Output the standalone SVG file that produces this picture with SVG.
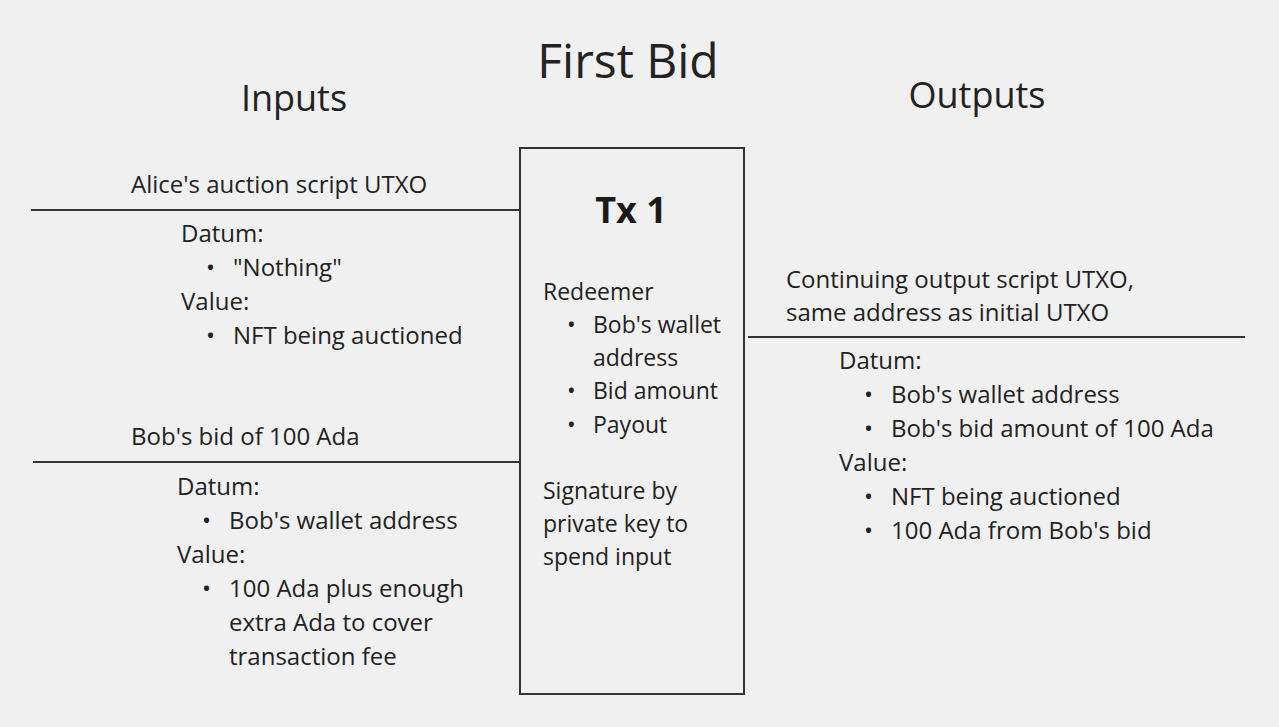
<svg xmlns="http://www.w3.org/2000/svg" width="1279" height="727" viewBox="0 0 1279 727">
<style>
.t{font-family:"Open Sans","Noto Sans",sans-serif;font-size:24px;fill:#222}
.s{font-size:23px}
.h{font-family:"Open Sans","Noto Sans",sans-serif;font-size:36px;fill:#222}
.ttl{font-family:"Open Sans","Noto Sans",sans-serif;font-size:48px;fill:#222}
.b{font-family:"Open Sans","Noto Sans",sans-serif;font-size:36px;font-weight:bold;fill:#1a1a1a}
.ln{stroke:#333;stroke-width:2;fill:none}
</style>
<rect width="1279" height="727" fill="#f0f0f0"/>
<g id="title">
<text class="ttl" x="628" y="78" text-anchor="middle">First Bid</text>
<text class="h" x="294" y="111" text-anchor="middle">Inputs</text>
<text class="h" x="977" y="108" text-anchor="middle">Outputs</text>
</g>
<g id="connectors">
<line class="ln" x1="31" y1="210" x2="520" y2="210"/>
<line class="ln" x1="33" y1="462" x2="520" y2="462"/>
<line class="ln" x1="748" y1="337" x2="1245" y2="337"/>
</g>
<g id="tx1">
<rect class="ln" x="520" y="148" width="224" height="546"/>
<text class="b" x="631" y="223" text-anchor="middle">Tx 1</text>
<text class="t s" x="543" y="300">Redeemer</text>
<text class="t s" x="567" y="333">•</text><text class="t s" x="593" y="333">Bob's wallet</text>
<text class="t s" x="593" y="366">address</text>
<text class="t s" x="567" y="399">•</text><text class="t s" x="593" y="399">Bid amount</text>
<text class="t s" x="567" y="433">•</text><text class="t s" x="593" y="433">Payout</text>
<text class="t s" x="543" y="499">Signature by</text>
<text class="t s" x="543" y="532">private key to</text>
<text class="t s" x="543" y="565">spend input</text>
</g>
<g id="input1">
<text class="t" x="131" y="193">Alice's auction script UTXO</text>
<text class="t" x="181" y="242">Datum:</text>
<text class="t" x="206" y="276">•</text><text class="t" x="233" y="276">"Nothing"</text>
<text class="t" x="181" y="310">Value:</text>
<text class="t" x="206" y="344">•</text><text class="t" x="233" y="344">NFT being auctioned</text>
</g>
<g id="input2">
<text class="t" x="131" y="445">Bob's bid of 100 Ada</text>
<text class="t" x="177" y="495">Datum:</text>
<text class="t" x="202" y="529">•</text><text class="t" x="229" y="529">Bob's wallet address</text>
<text class="t" x="177" y="563">Value:</text>
<text class="t" x="202" y="597">•</text><text class="t" x="229" y="597">100 Ada plus enough</text>
<text class="t" x="229" y="631">extra Ada to cover</text>
<text class="t" x="229" y="665">transaction fee</text>
</g>
<g id="output1">
<text class="t" x="786" y="288">Continuing output script UTXO,</text>
<text class="t" x="786" y="321">same address as initial UTXO</text>
<text class="t" x="839" y="369">Datum:</text>
<text class="t" x="864" y="403">•</text><text class="t" x="891" y="403">Bob's wallet address</text>
<text class="t" x="864" y="437">•</text><text class="t" x="891" y="437">Bob's bid amount of 100 Ada</text>
<text class="t" x="839" y="471">Value:</text>
<text class="t" x="864" y="505">•</text><text class="t" x="891" y="505">NFT being auctioned</text>
<text class="t" x="864" y="539">•</text><text class="t" x="891" y="539">100 Ada from Bob's bid</text>
</g>
</svg>
